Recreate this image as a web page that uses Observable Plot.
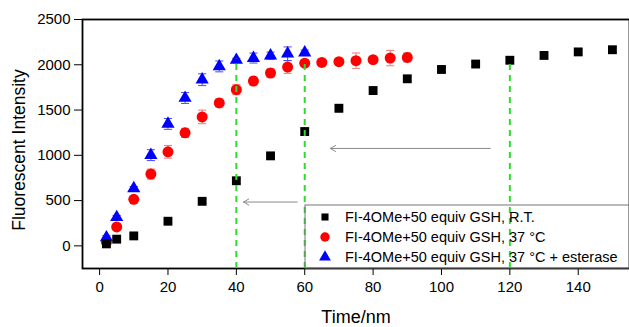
<!DOCTYPE html>
<html>
<head>
<meta charset="utf-8">
<script src="https://cdn.jsdelivr.net/npm/d3@7"></script>
<script src="https://cdn.jsdelivr.net/npm/@observablehq/plot@0.6"></script>
<style>
  html, body { margin: 0; padding: 0; background: #fff; overflow: hidden; }
  svg { display: block; font-family: 'Liberation Sans', Arial, sans-serif; }
</style>
</head>
<body>
<div id="chart"></div>
<script>
// ---- data ----
const seriesNames = [
  "FI-4OMe+50 equiv GSH, R.T.",
  "FI-4OMe+50 equiv GSH, 37 \u00B0C",
  "FI-4OMe+50 equiv GSH, 37 \u00B0C + esterase"
];
const rtTime = [2, 5, 10, 20, 30, 40, 50, 60, 70, 80, 90, 100, 110, 120, 130, 140, 150];
const rtValue = [22, 74, 110, 272, 492, 719, 994, 1262, 1520, 1715, 1845, 1948, 2008, 2050, 2103, 2142, 2166];
const rtError = [15, 15, 15, 20, 20, 30, 20, 40, 40, 40, 30, 30, 25, 35, 30, 30, 30];

const warmTime = [2, 5, 10, 15, 20, 25, 30, 35, 40, 45, 50, 55, 60, 65, 70, 75, 80, 85, 90];
const warmValue = [40, 209, 514, 793, 1039, 1248, 1424, 1578, 1725, 1820, 1909, 1975, 2018, 2026, 2034, 2045, 2056, 2074, 2081];
const warmError = [20, 30, 30, 55, 70, 50, 75, 45, 55, 45, 45, 70, 30, 35, 20, 85, 30, 85, 50];

const estTime = [2, 5, 10, 15, 20, 25, 30, 35, 40, 45, 50, 55, 60];
const estValue = [92, 316, 635, 1002, 1347, 1633, 1835, 1982, 2052, 2074, 2100, 2122, 2133];
const estError = [20, 20, 20, 60, 60, 60, 65, 60, 20, 55, 40, 75, 30];

const guideTime = [40, 60, 120];
const guideTop = [2060, 2030, 2050];

const arrowFrom = [57.8, 114.3];
const arrowTo = [42.1, 67.5];
const arrowLevel = [484, 1076];

const xTicks = [0, 20, 40, 60, 80, 100, 120, 140];
const yTicks = [0, 500, 1000, 1500, 2000, 2500];
const xDomain = [-5, 155];
const yDomain = [-250, 2500];

// ---- build tables ----
const mk = (t, v, e) => t.map((x, i) => ({x, y: v[i], lo: v[i] - e[i], hi: v[i] + e[i]}));
const rt = mk(rtTime, rtValue, rtError);
const warm = mk(warmTime, warmValue, warmError);
const est = mk(estTime, estValue, estError);
const guides = guideTime.map((x, i) => ({x, top: guideTop[i]}));
const arrows = arrowFrom.map((x1, i) => ({x1, x2: arrowTo[i], y: arrowLevel[i]}));

const capSymbol = {
  draw(ctx, size) {
    const w = Math.sqrt(size);
    ctx.moveTo(-w, 0);
    ctx.lineTo(w, 0);
  }
};

function errorMarks(data, color) {
  return [
    Plot.ruleX(data, {x: "x", y1: "lo", y2: "hi", stroke: color, strokeWidth: 1}),
    Plot.dot(data, {x: "x", y: "lo", symbol: capSymbol, r: 2.3, stroke: color, strokeWidth: 1, fill: "none"}),
    Plot.dot(data, {x: "x", y: "hi", symbol: capSymbol, r: 2.3, stroke: color, strokeWidth: 1, fill: "none"})
  ];
}

const chart = Plot.plot({
  width: 629,
  height: 327,
  marginLeft: 82,
  marginTop: 19,
  marginBottom: 59,
  marginRight: 0,
  x: {domain: xDomain},
  y: {domain: yDomain},
  marks: [
    Plot.frame({stroke: "#000", strokeWidth: 1.8}),
    Plot.axisX({ticks: xTicks, tickSize: 7, tickPadding: 6, label: null, fontSize: 15, tickFormat: d3.format("d")}),
    Plot.axisY({ticks: yTicks, tickSize: 8, tickPadding: 4, label: null, fontSize: 15, tickFormat: d3.format("d")}),
    ...errorMarks(warm, "#f07a7a"),
    ...errorMarks(est, "#4a4ae8"),
    ...errorMarks(rt, "#333"),
    Plot.dot(warm, {x: "x", y: "y", symbol: "circle", r: 5.5, fill: "#ff0000"}),
    Plot.dot(est, {x: "x", y: "y", symbol: "triangle", r: 4.9, fill: "#0000ff"}),
    Plot.dot(rt, {x: "x", y: "y", symbol: "square", r: 5.0, fill: "#000"}),
    Plot.arrow(arrows, {x1: "x1", x2: "x2", y1: "y", y2: "y", stroke: "#8a8a8a", strokeWidth: 1, headLength: 9, bend: 0}),
    Plot.ruleX(guides, {x: "x", y1: yDomain[0], y2: "top", stroke: "#2edc2e", strokeWidth: 2, strokeDasharray: "6,5"})
  ]
});

document.getElementById("chart").appendChild(chart);

// ---- axis titles and legend ----
const svg = d3.select(chart);

svg.append("text")
  .attr("transform", "translate(25,150) rotate(-90)")
  .attr("text-anchor", "middle")
  .attr("font-size", 17.5)
  .text("Fluorescent Intensity");
svg.append("text")
  .attr("x", 356).attr("y", 323)
  .attr("text-anchor", "middle")
  .attr("font-size", 18)
  .text("Time/nm");

const lg = svg.append("g");
lg.append("rect")
  .attr("x", 305).attr("y", 205).attr("width", 330).attr("height", 63)
  .attr("fill", "none").attr("stroke", "#777").attr("stroke-width", 1);
const symbols = [d3.symbolSquare, d3.symbolCircle, d3.symbolTriangle];
const symColors = ["#000", "#ff0000", "#0000ff"];
const symSizes = [50, 70, 60];
seriesNames.forEach((name, i) => {
  const cy = 217 + i * 20;
  lg.append("path")
    .attr("transform", `translate(325,${cy})`)
    .attr("d", d3.symbol(symbols[i], symSizes[i])())
    .attr("fill", symColors[i]);
  lg.append("text")
    .attr("x", 345).attr("y", cy + 5)
    .attr("text-anchor", "start")
    .attr("font-size", 14.5)
    .text(name);
});
</script>
</body>
</html>
